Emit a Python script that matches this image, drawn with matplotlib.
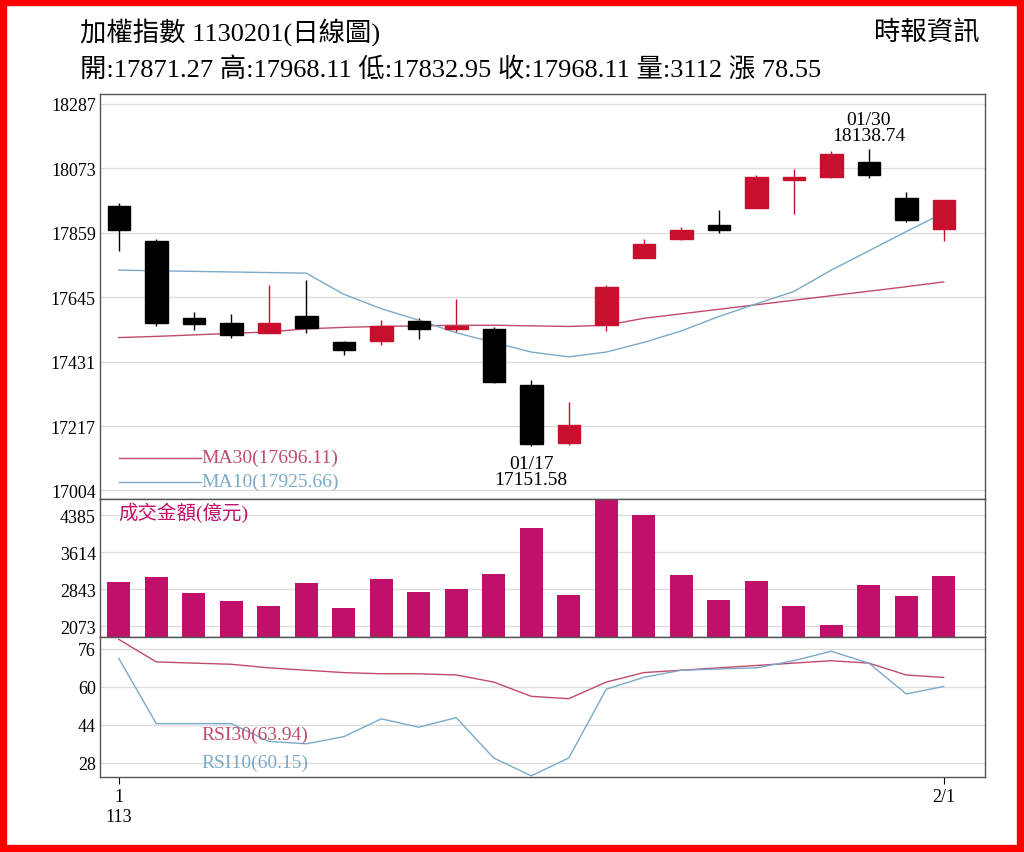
import matplotlib
matplotlib.use("Agg")
import matplotlib.pyplot as plt
from matplotlib.patches import Rectangle
import numpy as np

opens  = [17949,17831,17575,17559,17527,17584,17495,17501,17565,17539,17539,17353,17162,17552,17776,17838,17885,17943,18033,18045,18093,17974,17871.27]
closes = [17869,17559,17556,17520,17559,17543,17469,17549,17539,17549,17363,17159,17220,17680,17821,17870,17869,18045,18045,18120,18050,17900,17968.11]
highs  = [17958,17840,17597,17591,17687,17703,17501,17568,17575,17638,17546,17369,17297,17687,17840,17879,17935,18051,18070,18130,18138.74,17994,17968.11]
lows   = [17799,17549,17537,17511,17527,17527,17453,17488,17507,17530,17360,17151.58,17153,17533,17812,17835,17859,17940,17920,18040,18040,17894,17832.95]
ma10 = [17735,17733,17731,17729,17727,17725,17655,17607,17569,17527,17495,17463,17447,17463,17495,17533,17581,17623,17664,17735,17799,17863,17925.66]
ma30 = [17511,17515,17520,17525,17530,17540,17545,17548,17550,17552,17552,17550,17548,17552,17575,17590,17605,17620,17635,17650,17665,17680,17696.11]
volume = [2997,3102,2766,2598,2493,2976,2451,3060,2787,2850,3165,4110,2724,4700,4385,3144,2619,3018,2493,2094,2934,2703,3112]
rsi30 = [80,70.5,70,69.5,68,67,66,65.5,65.5,65,62,56,55,62,66,67,68,69,70,71,70,65,63.94]
rsi10 = [72,44.5,44.5,44.5,37,36,39,46.5,43,47,30,22.5,30,59,64,67,67.5,68,71,75,70,57,60.15]
price_ticks = [18287,18073,17859,17645,17431,17217,17004]
vol_ticks = [4385,3614,2843,2073]
rsi_ticks = [76,60,44,28]

serif = ['Liberation Serif','Noto Sans CJK TC']
RED = '#c8102e'; MAG = '#c0106a'; MA30C = '#c04a6a'; MA10C = '#7aaac8'
fig = plt.figure(figsize=(10.24,8.53), dpi=100)
fig.patches.append(Rectangle((0.003,0.004),0.994,0.992,transform=fig.transFigure,fill=False,edgecolor='red',linewidth=6))
L, W = 100/1024, 885/1024
ax1 = fig.add_axes([L,1-500/853,W,405/853])
ax2 = fig.add_axes([L,1-638/853,W,138/853], sharex=ax1)
ax3 = fig.add_axes([L,1-778/853,W,140/853], sharex=ax1)
x = np.arange(len(opens))
for ax in (ax1,ax2,ax3):
    ax.set_facecolor('white')
    for s in ax.spines.values(): s.set_color('#555555'); s.set_linewidth(1)
    ax.grid(axis='y', color='#dddddd', linewidth=1)
    ax.set_axisbelow(True)
    ax.tick_params(axis='both', length=0, labelsize=13, pad=3)
for i in x:
    o,c,h,l = opens[i],closes[i],highs[i],lows[i]
    col = RED if c>=o else 'black'
    ax1.vlines(i,l,h,color=col,linewidth=1)
    ax1.add_patch(Rectangle((i-0.3,min(o,c)),0.6,max(abs(c-o),3),facecolor=col,edgecolor=col,zorder=3))
ax1.plot(x,ma30,color=MA30C,lw=1)
ax1.plot(x,ma10,color=MA10C,lw=1)
ax1.set_ylim(16975,18320)
ax1.set_yticks(price_ticks)
ax1.set_xlim(-0.5,23.1)
ax1.plot([0,2.2],[17112,17112],color=MA30C,lw=1)
ax1.text(2.2,17112,'MA30(17696.11)',color=MA30C,fontsize=14,family=serif,va='center')
ax1.plot([0,2.2],[17032,17032],color=MA10C,lw=1)
ax1.text(2.2,17032,'MA10(17925.66)',color=MA10C,fontsize=14,family=serif,va='center')
ax1.text(20,18155,'01/30\n18138.74',ha='center',va='bottom',fontsize=14,family=serif,linespacing=0.9)
ax1.text(11,17120,'01/17\n17151.58',ha='center',va='top',fontsize=14,family=serif,linespacing=0.9,clip_on=False,zorder=5)
ax2.bar(x,volume,width=0.62,color=MAG)
ax2.set_ylim(1850,4720); ax2.set_yticks(vol_ticks)
ax2.text(0,4450,'成交金額(億元)',color=MAG,fontsize=14,family=serif,va='center')
ax3.plot(x,rsi30,color=MA30C,lw=1)
ax3.plot(x,rsi10,color=MA10C,lw=1)
ax3.set_ylim(22,81); ax3.set_yticks(rsi_ticks)
ax3.text(2.2,40,'RSI30(63.94)',color=MA30C,fontsize=14,family=serif,va='center')
ax3.text(2.2,28,'RSI10(60.15)',color=MA10C,fontsize=14,family=serif,va='center')
ax3.set_xticks([0,22]); ax3.set_xticklabels(['1\n113','2/1'],family='Liberation Serif',fontsize=13,va='top')
ax3.tick_params(axis='x',length=5,direction='out')
plt.setp(ax1.get_xticklabels(),visible=False); plt.setp(ax2.get_xticklabels(),visible=False)
ax1.tick_params(axis='x',length=0); ax2.tick_params(axis='x',length=0)
for ax in (ax1,ax2,ax3):
    for lab in ax.get_yticklabels(): lab.set_family('Liberation Serif')
fig.text(80/1024,1-32/853,'加權指數 1130201(日線圖)',fontsize=19,family=serif,va='center')
fig.text(980/1024,1-32/853,'時報資訊',fontsize=19,family=serif,va='center',ha='right')
fig.text(80/1024,1-70/853,'開:17871.27 高:17968.11 低:17832.95 收:17968.11 量:3112 漲 78.55',fontsize=19,family=serif,va='center')
fig.savefig('out.png',dpi=100,facecolor='white')
